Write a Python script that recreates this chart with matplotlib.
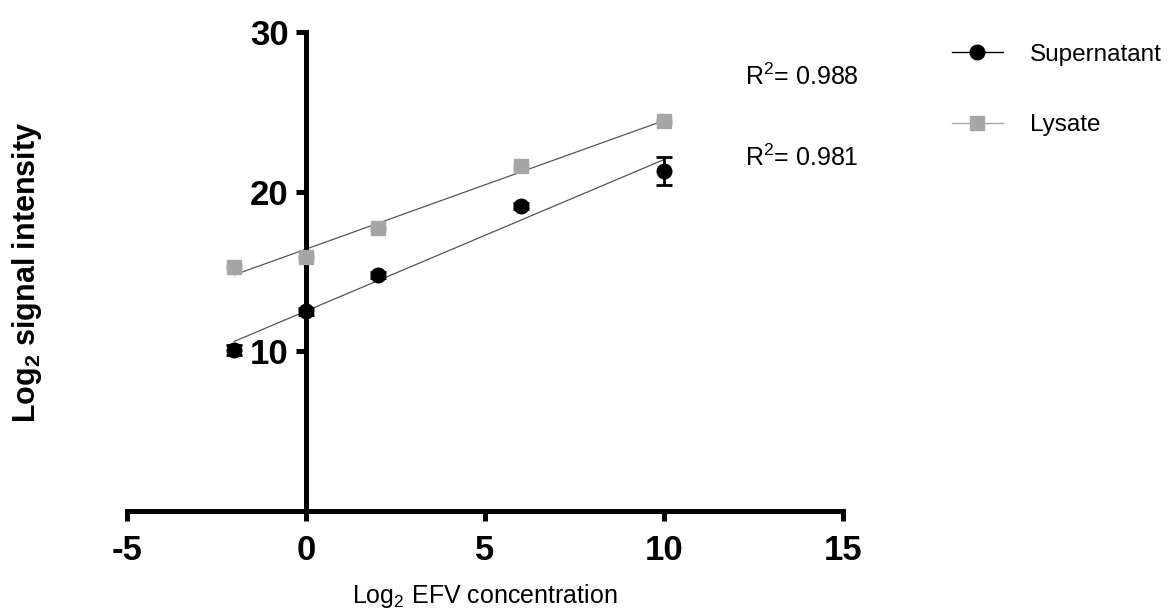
import numpy as np
from matplotlib import pyplot as plt

plt.rcParams['font.family'] = ['Liberation Sans', 'DejaVu Sans']
plt.rcParams['mathtext.default'] = 'regular'
plt.rcParams['axes.unicode_minus'] = False

# log2 EFV concentration
conc = [-2, 0, 2, 6, 10]

# log2 signal intensity (mean and error)
supernatant = [10.1, 12.5, 14.8, 19.1, 21.3]
supernatant_err = [0.3, 0.2, 0.2, 0.2, 0.9]
lysate = [15.3, 15.9, 17.7, 21.6, 24.4]
lysate_err = [0.1, 0.1, 0.1, 0.1, 0.1]

r2_labels = ['0.988', '0.981']

if __name__ == '__main__':
    f = plt.figure(figsize=(11.74, 6.12), dpi=100)
    ax = f.add_axes([0.1082, 0.1650, 0.6099, 0.7827])

    xs = np.array(conc, dtype=float)
    xfit = np.linspace(xs.min(), xs.max(), 50)

    # linear fits
    for ys in (lysate, supernatant):
        k, n = np.polyfit(xs, ys, 1)
        ax.plot(xfit, k * xfit + n, color='#555555', lw=0.9, zorder=2)

    ax.errorbar(conc, lysate, yerr=lysate_err, fmt='s', color='#a6a6a6',
                ms=10, capsize=6, elinewidth=2, capthick=2, zorder=3)
    ax.errorbar(conc, supernatant, yerr=supernatant_err, fmt='o', color='black',
                ms=10.5, capsize=6, elinewidth=2, capthick=2, zorder=4)

    ax.set_xlim(-5, 15)
    ax.set_ylim(0, 30)
    ax.set_xticks([-5, 0, 5, 10, 15])
    ax.set_yticks([10, 20, 30])
    ax.spines['left'].set_position(('data', 0))
    ax.spines['bottom'].set_position(('data', 0))
    ax.spines['top'].set_visible(False)
    ax.spines['right'].set_visible(False)
    for s in ('left', 'bottom'):
        ax.spines[s].set_linewidth(3.6)
    ax.tick_params(direction='out', length=7.5, width=3.6, pad=5)
    ax.tick_params(axis='x', pad=9)
    for lab in ax.get_xticklabels() + ax.get_yticklabels():
        lab.set_fontweight('bold')
        lab.set_fontsize(25)

    f.text(27 / 1174, 1 - 272 / 612, 'Log$_2$ signal intensity', rotation=90,
           ha='center', va='center', fontsize=22, fontweight='bold')
    f.text(485 / 1174, 2 / 612, 'Log$_2$ EFV concentration',
           ha='center', va='bottom', fontsize=18)

    f.text(745 / 1174, 1 - 77 / 612, 'R$^2$= ' + r2_labels[0],
           ha='left', va='center', fontsize=18)
    f.text(745 / 1174, 1 - 158 / 612, 'R$^2$= ' + r2_labels[1],
           ha='left', va='center', fontsize=18)

    h1 = plt.Line2D([], [], color='black', marker='o', ms=10.5, lw=1)
    h2 = plt.Line2D([], [], color='#a6a6a6', marker='s', ms=10, lw=1)
    f.legend([h1, h2], ['Supernatant', 'Lysate'], loc='upper left',
             bbox_to_anchor=(942 / 1174, 1 - 34 / 612), frameon=False,
             fontsize=17.5, handlelength=2.1, labelspacing=2.0, handletextpad=1.1,
             borderaxespad=0)

    f.savefig('out.png', dpi=100)
